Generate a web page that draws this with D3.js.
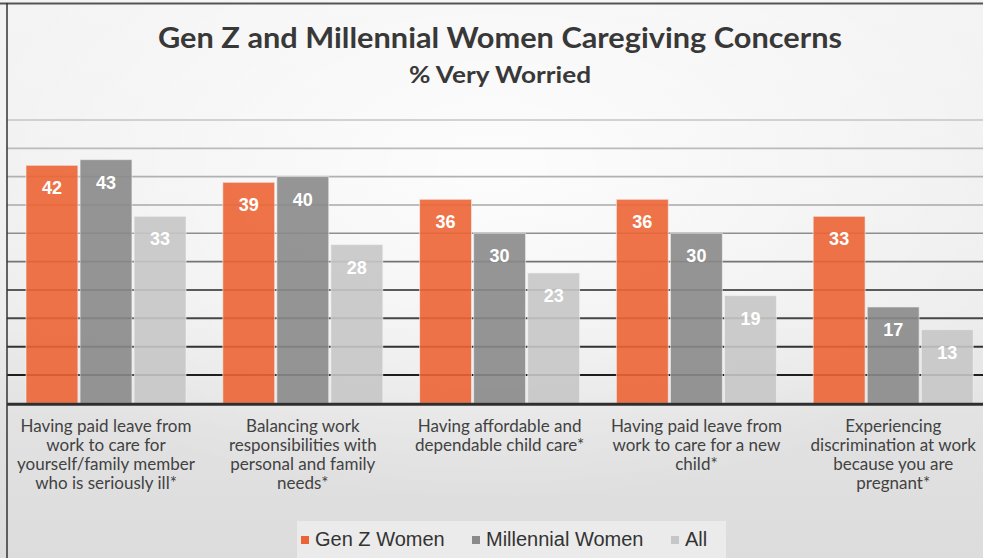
<!DOCTYPE html>
<html>
<head>
<meta charset="utf-8">
<script src="https://cdn.jsdelivr.net/npm/d3@7"></script>
<style>
	html, body { margin: 0; padding: 0; background: #e4e4e4; }
	svg { display: block; }
</style>
</head>
<body>
<script>
const categories = [
	["Having paid leave from", "work to care for", "yourself/family member", "who is seriously ill*"],
	["Balancing work", "responsibilities with", "personal and family", "needs*"],
	["Having affordable and", "dependable child care*"],
	["Having paid leave from", "work to care for a new", "child*"],
	["Experiencing", "discrimination at work", "because you are", "pregnant*"]
];
const seriesNames = ["Gen Z Women", "Millennial Women", "All"];
const genZ = [42, 39, 36, 36, 33];
const millennial = [43, 40, 30, 30, 17];
const allWomen = [33, 28, 23, 19, 13];
const gridTicks = [5, 10, 15, 20, 25, 30, 35, 40, 45, 50];

const width = 983, height = 558;
const colors = ["#ec6434", "#8a8a8a", "#c6c6c6"];
const seriesValues = [genZ, millennial, allWomen];

const svg = d3.select('body').append('svg')
	.attr('width', width)
	.attr('height', height);

const defs = svg.append('defs');
const bgGrad = defs.append('linearGradient')
	.attr('id', 'bg')
	.attr('x1', 0).attr('y1', 0).attr('x2', 0).attr('y2', 1);
bgGrad.append('stop').attr('offset', '0%').attr('stop-color', '#f3f3f3');
bgGrad.append('stop').attr('offset', '55%').attr('stop-color', '#ededed');
bgGrad.append('stop').attr('offset', '75%').attr('stop-color', '#e2e2e2');
bgGrad.append('stop').attr('offset', '100%').attr('stop-color', '#dcdcdc');

const glow = defs.append('radialGradient')
	.attr('id', 'glow')
	.attr('cx', '0.5').attr('cy', '0.3').attr('r', '0.6');
glow.append('stop').attr('offset', '0%').attr('stop-color', '#ffffff').attr('stop-opacity', 0.85);
glow.append('stop').attr('offset', '100%').attr('stop-color', '#ffffff').attr('stop-opacity', 0);

svg.append('rect')
	.attr('width', width).attr('height', height)
	.attr('fill', 'url(#bg)');
svg.append('rect')
	.attr('width', width).attr('height', height)
	.attr('fill', 'url(#glow)');

// scales
const y = d3.scaleLinear()
	.domain([0, 50])
	.range([403.3, 120]);

const x0 = d3.scaleBand()
	.domain(d3.range(categories.length))
	.range([7.6, 991.6])
	.paddingInner(0.187)
	.paddingOuter(0.0935);

const x1 = d3.scaleBand()
	.domain(d3.range(seriesNames.length))
	.range([0, x0.bandwidth()])
	.paddingInner(0.04);

const gridColor = d3.scaleLinear()
	.domain([5, 20, 35, 50])
	.range(['#1e1e1e', '#5a5a5a', '#a8a8a8', '#c4c4c4']);

// grid lines
svg.append('g')
	.selectAll('line')
	.data(gridTicks)
	.join('line')
		.attr('x1', 7)
		.attr('x2', width)
		.attr('y1', d => y(d))
		.attr('y2', d => y(d))
		.attr('stroke', d => gridColor(d))
		.attr('stroke-width', d => d <= 20 ? 2 : 1.6);

// bars
const groups = svg.append('g')
	.selectAll('g')
	.data(categories.map((c, i) => i))
	.join('g')
		.attr('transform', i => `translate(${x0(i)},0)`);

groups.selectAll('rect')
	.data(i => seriesValues.map((vals, s) => ({ s: s, v: vals[i] })))
	.join('rect')
		.attr('x', d => x1(d.s))
		.attr('y', d => y(d.v))
		.attr('width', x1.bandwidth())
		.attr('height', d => y(0) - y(d.v))
		.attr('fill', d => colors[d.s])
		.attr('fill-opacity', 0.9)
		.attr('stroke', '#f4f4f4')
		.attr('stroke-opacity', 0.6)
		.attr('stroke-width', 1);

groups.selectAll('text')
	.data(i => seriesValues.map((vals, s) => ({ s: s, v: vals[i] })))
	.join('text')
		.attr('x', d => x1(d.s) + x1.bandwidth() / 2)
		.attr('y', d => y(d.v) + 29)
		.attr('text-anchor', 'middle')
		.attr('font-family', '"Liberation Sans", Arial, sans-serif')
		.attr('font-weight', 'bold')
		.attr('font-size', 18)
		.attr('fill', '#ffffff')
		.text(d => d.v);

// axis baseline
svg.append('line')
	.attr('x1', 7).attr('x2', width)
	.attr('y1', y(0) + 1).attr('y2', y(0) + 1)
	.attr('stroke', '#2e2e2e')
	.attr('stroke-width', 3);

// category labels
const labels = svg.append('g')
	.selectAll('text')
	.data(categories)
	.join('text')
		.attr('text-anchor', 'middle')
		.attr('font-family', 'Lato, sans-serif')
		.attr('font-size', 17)
		.attr('fill', '#424242')
		.attr('transform', (d, i) => `translate(${x0(i) + x0.bandwidth() / 2},432)`);

labels.selectAll('tspan')
	.data(d => d)
	.join('tspan')
		.attr('x', 0)
		.attr('y', (d, j) => j * 19)
		.text(d => d);

// title
svg.append('text')
	.attr('x', 500).attr('y', 48)
	.attr('text-anchor', 'middle')
	.attr('font-family', 'Lato, sans-serif')
	.attr('font-weight', 'bold')
	.attr('font-size', 28)
	.attr('textLength', 684)
	.attr('lengthAdjust', 'spacingAndGlyphs')
	.attr('fill', '#383838')
	.text('Gen Z and Millennial Women Caregiving Concerns');

svg.append('text')
	.attr('x', 500).attr('y', 83)
	.attr('text-anchor', 'middle')
	.attr('font-family', 'Lato, sans-serif')
	.attr('font-weight', 'bold')
	.attr('font-size', 22)
	.attr('textLength', 182)
	.attr('lengthAdjust', 'spacingAndGlyphs')
	.attr('fill', '#383838')
	.text('% Very Worried');

// legend
svg.append('rect')
	.attr('x', 297).attr('y', 521)
	.attr('width', 429).attr('height', 37)
	.attr('fill', '#ebebeb');

const legendX = [301, 472, 671];
const legend = svg.append('g')
	.selectAll('g')
	.data(seriesNames)
	.join('g')
		.attr('transform', (d, i) => `translate(${legendX[i]},0)`);

legend.append('rect')
	.attr('x', 0).attr('y', 536)
	.attr('width', 8).attr('height', 8)
	.attr('fill', (d, i) => colors[i]);

legend.append('text')
	.attr('x', 14).attr('y', 546)
	.attr('font-family', '"Liberation Sans", Arial, sans-serif')
	.attr('font-size', 20)
	.attr('fill', '#333333')
	.text(d => d);

// frame
svg.append('line')
	.attr('x1', 0).attr('x2', width)
	.attr('y1', 3.5).attr('y2', 3.5)
	.attr('stroke', '#555555')
	.attr('stroke-width', 2);
svg.append('line')
	.attr('x1', 7).attr('x2', 7)
	.attr('y1', 3).attr('y2', height)
	.attr('stroke', '#333333')
	.attr('stroke-width', 1.5);
</script>
</body>
</html>
